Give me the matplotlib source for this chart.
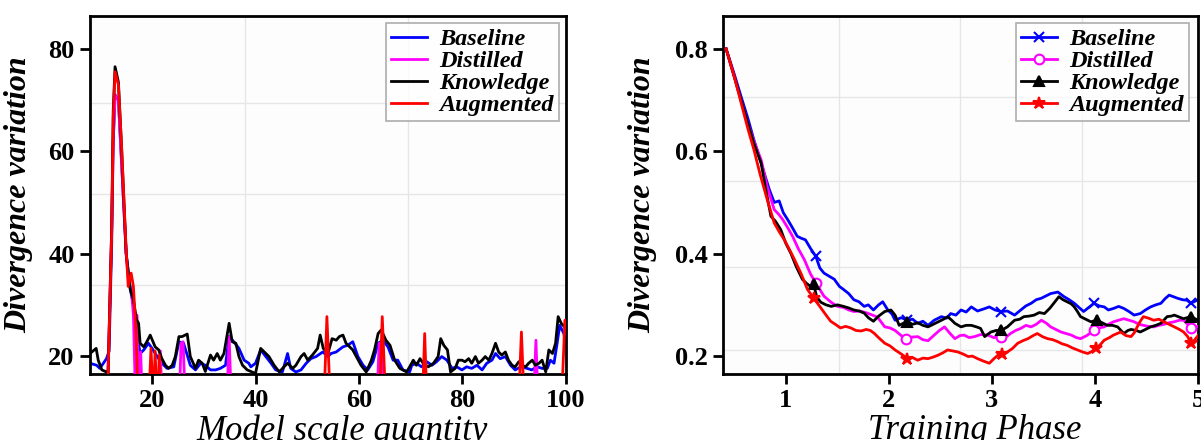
import numpy as np
import matplotlib
matplotlib.use("Agg")
import matplotlib.pyplot as plt
from matplotlib.ticker import FixedLocator

plt.rcParams["font.family"] = ["Liberation Serif", "DejaVu Serif"]

LABELS = ["Baseline", "Distilled", "Knowledge", "Augmented"]
COLORS = ["#0000ff", "#ff00ff", "#000000", "#ff0000"]

# ---- left panel: divergence vs model scale quantity ----
scale_baseline_x = [8, 9.3, 9.9, 10.6, 11.2, 11.7, 12.2, 12.5, 12.85, 13.5, 14.1, 15.0, 15.8, 16.4, 17.0,
                    17.7, 18.4, 19.3, 20.0, 21.0, 21.9, 22.9, 24.2, 25.2, 26.1, 27.4, 28.4, 29.4, 30.3,
                    31.3, 32.3, 33.2, 34.2, 34.9, 35.8, 36.8, 37.8, 38.7, 39.1, 40.0, 41.0, 42.0, 43.0,
                    43.9, 45.2, 46.2, 46.8, 47.8, 48.8, 49.8, 50.7, 51.7, 53.0, 54.0, 54.6, 55.6, 56.9,
                    57.8, 58.8, 59.8, 60.8, 61.7, 62.7, 63.7, 64.6, 65.6, 66.6, 67.5, 68.5, 69.8, 70.2,
                    71.1, 72.1, 73.1, 74.1, 75.0, 76.0, 77.0, 78.0, 78.9, 79.9, 80.8, 81.8, 82.8, 83.8,
                    84.7, 85.7, 86.4, 87.3, 88.3, 89.3, 90.2, 91.3, 92.5, 93.4, 94.4, 95.4, 96.4, 97.0,
                    97.7, 98.3, 98.8, 99.6, 100]
scale_baseline_y = [18.6, 18.2, 17.6, 18.6, 19.5, 21.0, 42.0, 62.0, 71.0, 70.0, 58.0, 40.0, 33.0, 30.0, 25.0,
                    20.5, 21.2, 22.5, 21.5, 19.9, 18.6, 17.6, 17.9, 22.8, 22.5, 18.2, 17.3, 18.6, 18.2,
                    17.3, 17.3, 17.6, 18.2, 23.8, 22.8, 21.5, 19.2, 18.6, 17.9, 18.6, 21.2, 19.9, 18.6,
                    17.3, 16.9, 20.5, 17.6, 16.9, 17.3, 18.6, 19.5, 19.9, 20.8, 19.9, 20.5, 20.8, 21.8,
                    22.1, 22.8, 19.9, 18.2, 17.3, 18.9, 22.5, 23.1, 21.8, 19.2, 19.2, 17.3, 16.9, 18.2,
                    18.6, 17.9, 18.9, 18.2, 18.9, 19.9, 19.2, 17.6, 17.9, 17.3, 17.9, 17.6, 18.2, 17.3,
                    18.6, 19.2, 20.5, 19.5, 19.9, 18.2, 17.3, 17.9, 17.6, 17.3, 17.9, 17.6, 17.6, 19.2,
                    18.6, 22.5, 26.0, 24.4, 22.0]

scale_distilled_x = [8, 11.3, 11.7, 12.2, 12.5, 12.85, 13.5, 14.1, 15.0, 15.5, 16.0, 16.4, 16.8, 17.1,
                     17.4, 17.8, 18.1, 21.3, 21.6, 21.9, 25.3, 25.6, 26.0, 26.4, 34.5, 34.9, 35.3,
                     63.5, 63.9, 64.3, 64.7, 93.8, 94.2, 94.6, 100]
scale_distilled_y = [12, 12, 25, 45, 62, 71, 70, 58, 40, 34, 33, 28, 12, 28,
                     12, 20.8, 12, 12, 21.0, 12, 12, 22.5, 22.8, 12, 12, 23.8, 12,
                     12, 22.5, 22.0, 12, 12, 23.1, 12, 12]

scale_knowledge_x = [8, 9.2, 9.6, 10.3, 11.2, 11.5, 12.2, 12.5, 12.85, 13.5, 14.1, 15.0, 15.8, 16.4,
                     17.0, 17.4, 17.7, 18.4, 19.0, 19.65, 20.6, 21.3, 21.9, 22.6, 23.2, 23.9, 24.5,
                     25.2, 25.8, 26.8, 27.4, 28.4, 29.0, 29.7, 30.3, 31.3, 31.9, 32.6, 33.2, 33.9,
                     34.9, 35.5, 36.2, 36.8, 37.5, 38.4, 39.1, 40.0, 41.0, 41.7, 42.6, 43.6, 44.6,
                     45.5, 46.2, 47.2, 47.8, 48.8, 49.4, 50.1, 51.0, 52.0, 52.5, 53.1, 54.0, 54.8,
                     55.6, 56.2, 56.9, 57.5, 58.2, 58.8, 59.5, 60.4, 61.4, 62.4, 63.0, 63.7, 64.3,
                     65.2, 66.0, 66.9, 67.9, 69.2, 69.8, 70.5, 71.1, 71.8, 72.4, 73.4, 74.4, 75.3,
                     75.8, 76.4, 77.1, 77.7, 78.6, 79.2, 79.9, 80.5, 81.2, 81.8, 82.5, 83.1, 83.8,
                     84.4, 85.1, 85.7, 86.4, 87.0, 87.6, 88.3, 88.9, 89.6, 90.2, 90.9, 91.5, 92.2,
                     92.8, 93.5, 94.1, 94.8, 95.4, 96.1, 96.7, 97.4, 98.0, 98.5, 99.1, 99.9]
scale_knowledge_y = [20.5, 21.5, 19.2, 17.3, 16.9, 16.0, 45.0, 68.0, 76.5, 73.5, 61.0, 40.0, 33.0, 31.0,
                     27.1, 26.4, 22.5, 21.8, 22.8, 24.1, 21.8, 21.2, 19.5, 18.2, 17.6, 18.2, 19.9,
                     23.8, 23.8, 24.3, 19.9, 17.6, 19.2, 18.6, 17.0, 20.2, 19.2, 20.5, 19.2, 20.5,
                     26.4, 22.8, 22.5, 19.9, 18.2, 17.3, 17.0, 16.6, 21.5, 20.8, 19.9, 18.2, 16.9,
                     17.9, 18.6, 17.6, 18.2, 19.9, 20.5, 19.2, 20.2, 21.5, 24.1, 21.5, 20.5, 23.4,
                     23.1, 23.8, 24.1, 22.5, 21.8, 21.2, 19.9, 18.2, 16.9, 19.2, 21.2, 24.4, 25.1,
                     23.1, 22.1, 19.2, 17.6, 16.9, 17.9, 19.2, 18.2, 19.5, 18.6, 17.9, 18.6, 19.9,
                     23.4, 22.1, 21.2, 16.9, 17.6, 19.2, 19.2, 18.9, 19.5, 18.6, 19.9, 18.6, 19.2,
                     19.9, 19.2, 20.5, 22.5, 20.8, 20.2, 20.8, 19.2, 18.2, 17.9, 18.9, 18.2, 17.9,
                     18.6, 19.2, 18.2, 18.6, 19.2, 16.9, 21.2, 20.5, 22.5, 27.7, 26.4, 25.5]

scale_augmented_x = [8, 11.4, 12.2, 12.5, 12.85, 13.5, 14.15, 15.0, 15.4, 15.96, 16.4, 16.9, 17.3,
                     19.4, 19.8, 20.2, 20.3, 20.6, 20.9, 21.1, 21.4, 21.7, 53.2, 53.8, 54.5,
                     63.9, 64.5, 65.2, 72.3, 72.7, 73.1, 90.9, 91.4, 91.9, 99.2, 99.8, 100]
scale_augmented_y = [12, 12, 44.0, 66.7, 75.5, 73.0, 60.2, 40.7, 33.6, 36.2, 33.6, 24.5, 12,
                     12, 21.5, 12, 12, 21.0, 12, 12, 20.2, 12, 10, 27.7, 10,
                     10, 27.7, 10, 12, 24.4, 12, 12, 24.7, 12, 12, 27.0, 27.0]

# ---- right panel: divergence over training phase ----
phase_baseline_x = [0.42, 0.50, 0.565, 0.63, 0.69, 0.74, 0.79, 0.84, 0.887, 0.935, 0.975, 1.016, 1.06,
                    1.11, 1.15, 1.19, 1.24, 1.29, 1.33, 1.37, 1.42, 1.47, 1.52, 1.56, 1.61, 1.66, 1.71,
                    1.76, 1.80, 1.85, 1.90, 1.94, 1.99, 2.03, 2.06, 2.12, 2.18, 2.23, 2.28, 2.33, 2.38,
                    2.44, 2.51, 2.56, 2.60, 2.65, 2.70, 2.75, 2.80, 2.86, 2.92, 2.975, 3.03, 3.09, 3.15,
                    3.22, 3.28, 3.33, 3.38, 3.43, 3.48, 3.53, 3.57, 3.64, 3.70, 3.75, 3.80, 3.85, 3.89,
                    3.94, 3.99, 4.04, 4.09, 4.13, 4.18, 4.23, 4.28, 4.33, 4.38, 4.44, 4.49, 4.54, 4.59,
                    4.64, 4.68, 4.72, 4.76, 4.80, 4.85, 4.895, 4.93, 4.96, 5.00]
phase_baseline_y = [0.800, 0.750, 0.707, 0.665, 0.622, 0.590, 0.557, 0.525, 0.500, 0.503, 0.480, 0.467,
                    0.452, 0.434, 0.430, 0.427, 0.410, 0.395, 0.372, 0.362, 0.356, 0.350, 0.336, 0.330,
                    0.322, 0.310, 0.306, 0.297, 0.300, 0.290, 0.300, 0.306, 0.290, 0.282, 0.270, 0.275,
                    0.270, 0.272, 0.264, 0.268, 0.260, 0.270, 0.277, 0.274, 0.283, 0.280, 0.290, 0.286,
                    0.296, 0.288, 0.292, 0.296, 0.290, 0.287, 0.288, 0.280, 0.290, 0.298, 0.303, 0.310,
                    0.313, 0.318, 0.322, 0.325, 0.316, 0.310, 0.303, 0.294, 0.287, 0.295, 0.303, 0.298,
                    0.296, 0.290, 0.293, 0.297, 0.293, 0.287, 0.280, 0.283, 0.290, 0.296, 0.300, 0.303,
                    0.312, 0.319, 0.316, 0.313, 0.310, 0.309, 0.303, 0.306, 0.310]

phase_distilled_x = [0.42, 0.50, 0.565, 0.63, 0.69, 0.76, 0.82, 0.887, 0.93, 0.968, 1.02, 1.065, 1.12,
                     1.18, 1.24, 1.29, 1.33, 1.37, 1.44, 1.50, 1.56, 1.61, 1.66, 1.72, 1.79, 1.84, 1.89,
                     1.96, 2.01, 2.06, 2.12, 2.17, 2.22, 2.28, 2.33, 2.38, 2.44, 2.49, 2.54, 2.59, 2.64,
                     2.69, 2.73, 2.78, 2.83, 2.89, 2.96, 3.02, 3.09, 3.13, 3.18, 3.23, 3.28, 3.33, 3.38,
                     3.43, 3.48, 3.53, 3.57, 3.62, 3.67, 3.72, 3.77, 3.82, 3.86, 3.92, 3.99, 4.04, 4.09,
                     4.13, 4.18, 4.23, 4.28, 4.33, 4.38, 4.43, 4.47, 4.52, 4.57, 4.62, 4.67, 4.72, 4.77,
                     4.82, 4.86, 4.90, 4.93, 5.00]
phase_distilled_y = [0.800, 0.745, 0.700, 0.655, 0.620, 0.583, 0.530, 0.486, 0.477, 0.467, 0.450, 0.434,
                     0.410, 0.388, 0.360, 0.343, 0.330, 0.317, 0.305, 0.297, 0.295, 0.290, 0.287, 0.288,
                     0.284, 0.280, 0.276, 0.257, 0.255, 0.250, 0.240, 0.234, 0.237, 0.238, 0.232, 0.230,
                     0.241, 0.250, 0.257, 0.245, 0.234, 0.240, 0.241, 0.236, 0.238, 0.242, 0.241, 0.236,
                     0.238, 0.236, 0.244, 0.250, 0.254, 0.260, 0.257, 0.262, 0.270, 0.264, 0.257, 0.252,
                     0.247, 0.244, 0.241, 0.236, 0.234, 0.240, 0.250, 0.255, 0.257, 0.262, 0.267, 0.270,
                     0.273, 0.270, 0.267, 0.262, 0.260, 0.258, 0.257, 0.260, 0.262, 0.265, 0.267, 0.270,
                     0.270, 0.262, 0.254, 0.258]

phase_knowledge_x = [0.42, 0.50, 0.565, 0.63, 0.69, 0.76, 0.81, 0.855, 0.90, 0.95, 1.00, 1.05, 1.10,
                     1.16, 1.20, 1.24, 1.27, 1.30, 1.34, 1.39, 1.44, 1.50, 1.56, 1.61, 1.66, 1.71, 1.76,
                     1.80, 1.85, 1.90, 1.96, 2.02, 2.06, 2.10, 2.14, 2.18, 2.23, 2.28, 2.33, 2.38, 2.43,
                     2.48, 2.53, 2.57, 2.61, 2.64, 2.70, 2.75, 2.80, 2.85, 2.89, 2.93, 2.99, 3.04, 3.09,
                     3.15, 3.22, 3.27, 3.31, 3.36, 3.41, 3.46, 3.51, 3.56, 3.60, 3.65, 3.69, 3.73, 3.77,
                     3.80, 3.83, 3.86, 3.91, 3.96, 4.02, 4.07, 4.12, 4.17, 4.22, 4.28, 4.32, 4.35, 4.40,
                     4.44, 4.49, 4.54, 4.59, 4.64, 4.70, 4.74, 4.77, 4.82, 4.86, 4.93, 5.00]
phase_knowledge_y = [0.800, 0.745, 0.700, 0.655, 0.615, 0.577, 0.520, 0.473, 0.463, 0.447, 0.420, 0.400,
                     0.375, 0.350, 0.342, 0.336, 0.340, 0.315, 0.305, 0.300, 0.297, 0.300, 0.297, 0.294,
                     0.290, 0.288, 0.284, 0.275, 0.268, 0.278, 0.287, 0.290, 0.280, 0.260, 0.264, 0.267,
                     0.262, 0.265, 0.260, 0.257, 0.262, 0.267, 0.272, 0.277, 0.270, 0.264, 0.257, 0.260,
                     0.260, 0.257, 0.254, 0.238, 0.247, 0.250, 0.250, 0.257, 0.270, 0.272, 0.277, 0.278,
                     0.280, 0.285, 0.283, 0.293, 0.303, 0.316, 0.310, 0.306, 0.302, 0.296, 0.287, 0.277,
                     0.272, 0.267, 0.270, 0.265, 0.260, 0.260, 0.257, 0.244, 0.250, 0.252, 0.250, 0.247,
                     0.252, 0.257, 0.260, 0.264, 0.277, 0.278, 0.280, 0.276, 0.273, 0.277, 0.270]

phase_augmented_x = [0.42, 0.50, 0.565, 0.63, 0.69, 0.75, 0.82, 0.887, 0.935, 0.985, 1.03, 1.08, 1.15,
                     1.21, 1.27, 1.34, 1.39, 1.435, 1.48, 1.53, 1.58, 1.63, 1.68, 1.73, 1.78, 1.82, 1.86,
                     1.90, 1.96, 2.01, 2.06, 2.12, 2.18, 2.23, 2.28, 2.33, 2.38, 2.43, 2.48, 2.53, 2.57,
                     2.62, 2.67, 2.72, 2.77, 2.81, 2.86, 2.92, 2.975, 3.02, 3.06, 3.10, 3.15, 3.20, 3.25,
                     3.30, 3.35, 3.40, 3.44, 3.49, 3.54, 3.59, 3.64, 3.68, 3.73, 3.78, 3.83, 3.88, 3.93,
                     3.97, 4.01, 4.05, 4.09, 4.14, 4.18, 4.25, 4.30, 4.35, 4.38, 4.41, 4.44, 4.47, 4.52,
                     4.57, 4.62, 4.67, 4.72, 4.77, 4.82, 4.86, 4.90, 4.93, 4.97, 5.00]
phase_augmented_y = [0.800, 0.745, 0.695, 0.645, 0.603, 0.555, 0.505, 0.460, 0.443, 0.427, 0.410, 0.390,
                     0.360, 0.330, 0.313, 0.294, 0.280, 0.268, 0.262, 0.255, 0.258, 0.255, 0.250, 0.249,
                     0.252, 0.250, 0.244, 0.236, 0.225, 0.220, 0.212, 0.204, 0.195, 0.197, 0.192, 0.196,
                     0.195, 0.198, 0.202, 0.207, 0.212, 0.210, 0.208, 0.204, 0.199, 0.200, 0.195, 0.190,
                     0.186, 0.195, 0.202, 0.205, 0.208, 0.215, 0.225, 0.230, 0.234, 0.240, 0.244, 0.238,
                     0.234, 0.232, 0.228, 0.224, 0.221, 0.216, 0.212, 0.208, 0.205, 0.209, 0.215, 0.222,
                     0.231, 0.236, 0.241, 0.247, 0.240, 0.238, 0.245, 0.257, 0.268, 0.277, 0.274, 0.270,
                     0.272, 0.267, 0.262, 0.257, 0.252, 0.247, 0.238, 0.225, 0.232, 0.240]

PHASE_MARKS = [1.27, 2.18, 3.09, 4.0, 4.93]
PHASE_MARKERS = ["x", "o", "^", "*"]

TICK_SIZE = 19
LEGEND_FONT = dict(size=17.5, weight="bold", style="italic")


def _style_axis(ax, xlim, ylim, xticks, yticks, grid_x, grid_y, xlabel):
    ax.set_facecolor("#fdfdfd")
    ax.set_xlim(*xlim)
    ax.set_ylim(*ylim)
    ax.set_xticks(xticks)
    ax.set_yticks(yticks)
    ax.tick_params(direction="out", length=7, width=2, pad=4, top=False, right=False)
    for lab in ax.get_xticklabels() + ax.get_yticklabels():
        lab.set_fontsize(TICK_SIZE)
        lab.set_fontweight("bold")
    # light background grid, not tied to the tick positions
    ax.xaxis.set_minor_locator(FixedLocator(grid_x))
    ax.yaxis.set_minor_locator(FixedLocator(grid_y))
    ax.tick_params(which="minor", length=0)
    ax.grid(which="minor", color="#e6e6e6", linewidth=1.0)
    ax.set_axisbelow(True)
    for sp in ax.spines.values():
        sp.set_linewidth(2)
    ax.set_xlabel(xlabel, fontsize=25, style="italic")
    ax.set_ylabel("Divergence variation", fontsize=23, style="italic", fontweight="bold")
    ax.xaxis.set_label_coords(0.53, -0.112)


def _legend(ax, anchor):
    leg = ax.legend(loc="upper right", bbox_to_anchor=anchor, borderaxespad=0,
                    prop=LEGEND_FONT, frameon=True, fancybox=False, handlelength=1.5,
                    handletextpad=0.5, labelspacing=0.0, borderpad=0.2)
    leg.get_frame().set_edgecolor("#999999")
    leg.get_frame().set_linewidth(1.2)
    return leg


fig = plt.figure(figsize=(12.01, 4.4), dpi=100)
ax1 = fig.add_axes([0.0749, 0.15, 0.3963, 0.8136])
ax2 = fig.add_axes([0.602, 0.15, 0.3955, 0.8136])

scale_series = [
    (scale_baseline_x, scale_baseline_y),
    (scale_distilled_x, scale_distilled_y),
    (scale_knowledge_x, scale_knowledge_y),
    (scale_augmented_x, scale_augmented_y),
]
for i, (xs, ys) in enumerate(scale_series):
    ax1.plot(xs, ys, color=COLORS[i], lw=2, label=LABELS[i], zorder=2 + i)

_style_axis(ax1, (8, 100), (16.5, 86.4), [20, 40, 60, 80, 100], [20, 40, 60, 80],
            [37.9, 69.5], [33.9, 51.6, 69.4], "Model scale quantity")
ax1.yaxis.set_label_coords(-0.12, 0.5)
_legend(ax1, (0.985, 0.98))

phase_series = [
    (phase_baseline_x, phase_baseline_y),
    (phase_distilled_x, phase_distilled_y),
    (phase_knowledge_x, phase_knowledge_y),
    (phase_augmented_x, phase_augmented_y),
]
for i, (xs, ys) in enumerate(phase_series):
    xs = np.asarray(xs)
    marks = [int(np.abs(xs - m).argmin()) for m in PHASE_MARKS]
    face = "white" if PHASE_MARKERS[i] == "o" else COLORS[i]
    size = 9 if PHASE_MARKERS[i] == "*" else 7
    ax2.plot(xs, ys, color=COLORS[i], lw=2, label=LABELS[i], marker=PHASE_MARKERS[i],
             markevery=marks, markersize=size, markerfacecolor=face,
             markeredgecolor=COLORS[i], markeredgewidth=1.5, zorder=2 + i)

_style_axis(ax2, (0.39, 5.0), (0.165, 0.864), [1, 2, 3, 4, 5], [0.2, 0.4, 0.6, 0.8],
            [1.52, 2.69, 3.875], [0.212, 0.374, 0.541, 0.705], "Training Phase")
ax2.set_yticklabels(["0.2", "0.4", "0.6", "0.8"], fontsize=TICK_SIZE, fontweight="bold")
ax2.yaxis.set_label_coords(-0.139, 0.5)
_legend(ax2, (0.981, 0.98))

fig.savefig("out.png", dpi=100)
